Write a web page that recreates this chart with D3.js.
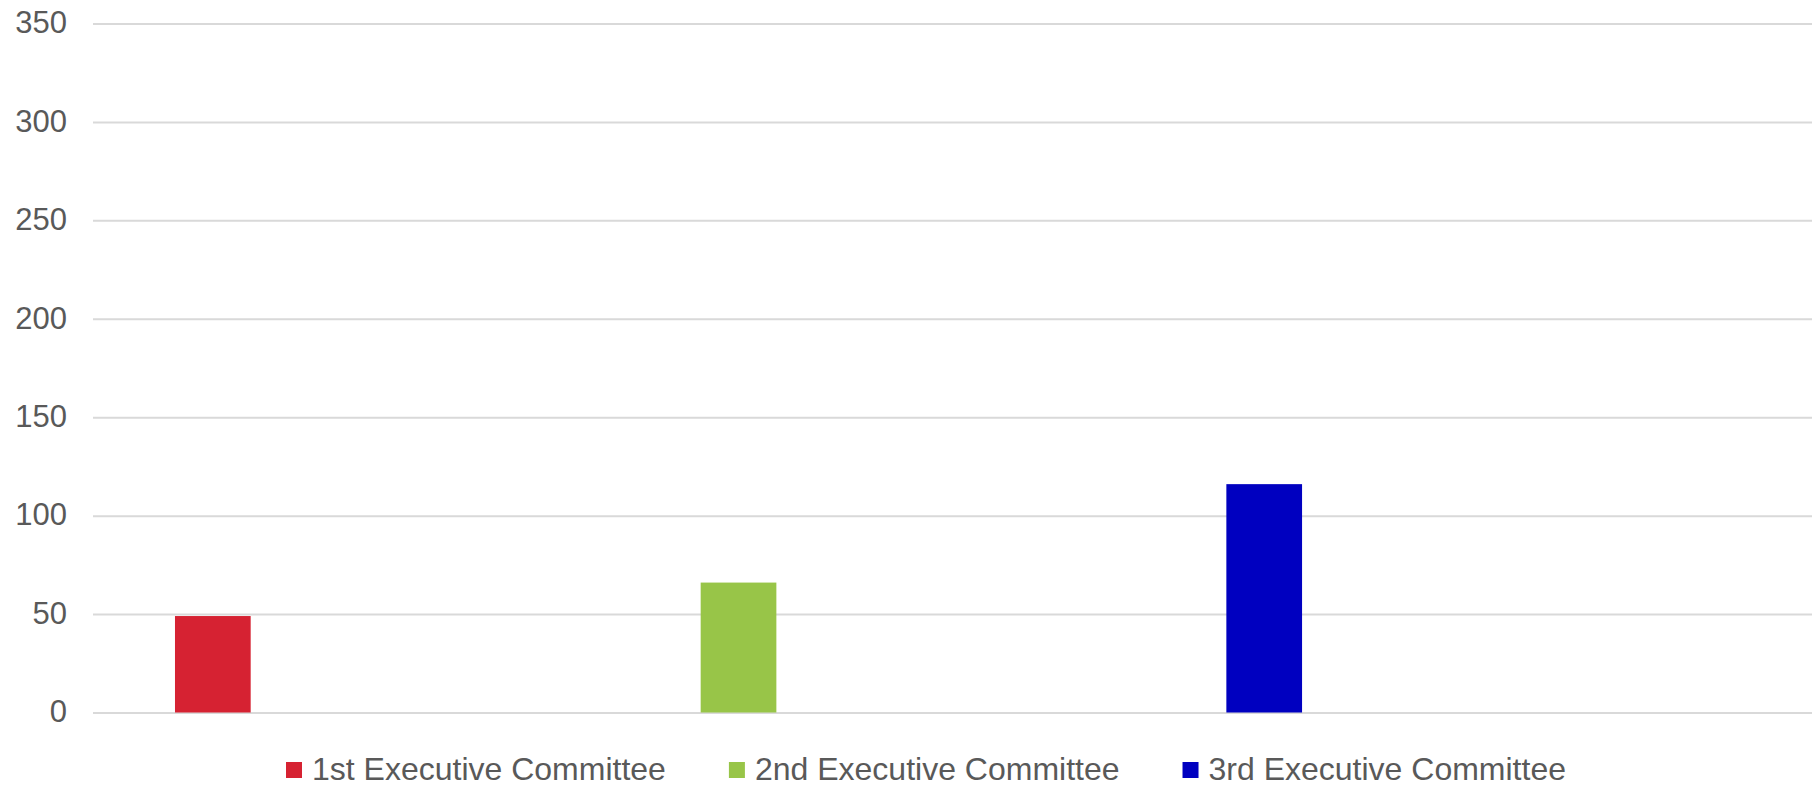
<!DOCTYPE html>
<html>
<head>
<meta charset="utf-8">
<script src="https://cdn.jsdelivr.net/npm/d3@7"></script>
<style>
  body { margin: 0; background: #fff; }
  svg { display: block; font-family: "Liberation Sans", Arial, Helvetica, sans-serif; }
</style>
</head>
<body>
<div class="chart"></div>
<script>
const series = ["1st Executive Committee", "2nd Executive Committee", "3rd Executive Committee"]
const values = [49, 66, 116]
const colors = ["#d62232", "#98c548", "#0000c0"]
const yTicks = [0, 50, 100, 150, 200, 250, 300, 350]

const width = 1817
const height = 786
const margin = { top: 23.5, right: 5, bottom: 73.5, left: 93 }

const svg = d3.select(".chart")
    .append("svg")
    .attr("width", width)
    .attr("height", height)

const y = d3.scaleLinear()
    .domain([0, 350])
    .range([height - margin.bottom, margin.top])

const x = d3.scaleBand()
    .domain(series)
    .range([margin.left, width - margin.right])
    .paddingInner(0.856)
    .paddingOuter(0.563)
    .align(0.1385)

// gridlines + labels
const yAxis = d3.axisLeft(y)
    .tickValues(yTicks)
    .tickSize(-(width - margin.left - margin.right))
    .tickPadding(26)

const gy = svg.append("g")
    .attr("transform", `translate(${margin.left},0)`)
    .call(yAxis)

gy.select(".domain").remove()
gy.selectAll(".tick line")
    .attr("stroke", "#d9d9d9")
    .attr("stroke-width", 2)
gy.selectAll(".tick text")
    .attr("fill", "#595959")
    .style("font-size", "31px")
    .attr("dy", "0.3em")

// bars
svg.selectAll("rect.bar")
    .data(series)
    .enter()
    .append("rect")
    .attr("class", "bar")
    .attr("x", d => x(d))
    .attr("width", x.bandwidth())
    .attr("y", (d, i) => y(values[i]))
    .attr("height", (d, i) => y(0) - y(values[i]))
    .attr("fill", (d, i) => colors[i])

// legend
const legend = svg.append("g")
let lx = 286
series.forEach((s, i) => {
    legend.append("rect")
        .attr("x", lx)
        .attr("y", 762)
        .attr("width", 16)
        .attr("height", 16)
        .attr("fill", colors[i])
    const t = legend.append("text")
        .attr("x", lx + 26)
        .attr("y", 780)
        .attr("fill", "#595959")
        .style("font-size", "32px")
        .text(s)
    lx += 26 + t.node().getComputedTextLength() + 63
})
</script>
</body>
</html>
